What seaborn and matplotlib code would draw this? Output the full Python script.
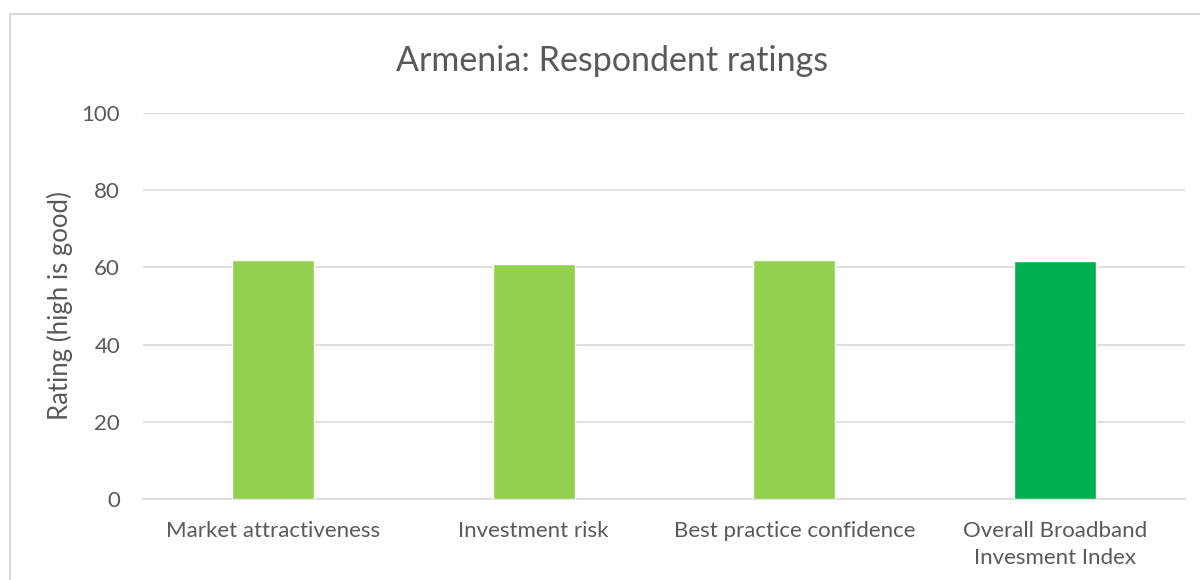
import seaborn as sns
import matplotlib.pyplot as plt
import pandas as pd
from matplotlib.patches import Rectangle

categories = ["Market attractiveness", "Investment risk", "Best practice confidence",
              "Overall Broadband\nInvesment Index"]
ratings = [61.8, 60.8, 61.8, 61.6]
bar_colors = ["#92D050", "#92D050", "#92D050", "#00B050"]

df = pd.DataFrame({"category": categories, "rating": ratings})

sns.set_style("white")
plt.rcParams['font.family'] = ['Lato', 'DejaVu Sans']
text_color = "#595959"

fig = plt.figure(figsize=(12, 5.8), dpi=100)
ax = fig.add_axes([143 / 1200, 1 - 499 / 580, 1042 / 1200, (499 - 113) / 580])

sns.barplot(data=df, x="category", y="rating", hue="category", palette=bar_colors,
            width=0.315, saturation=1, legend=False, ax=ax, zorder=3)

ax.set_ylim(0, 100)
ax.set_yticks(range(0, 101, 20))
ax.set_xlim(-0.5, 3.5)
ax.grid(axis="y", color="#D9D9D9", linewidth=1.2, zorder=0)
for s in ["top", "right", "left"]:
    ax.spines[s].set_visible(False)
ax.spines["bottom"].set_color("#D9D9D9")
ax.spines["bottom"].set_linewidth(1.2)
ax.tick_params(axis="both", length=0, labelsize=16, colors=text_color)
ax.tick_params(axis="y", pad=16.5)
ax.tick_params(axis="x", pad=16)
for lab in ax.get_xticklabels():
    lab.set_linespacing(1.4)
ax.set_xlabel("")
ax.set_ylabel("Rating (high is good)", fontsize=18.5, color=text_color)
ax.yaxis.set_label_coords((73 - 143) / 1042, 0.5)

fig.text(612 / 1200, 1 - 61 / 580, "Armenia: Respondent ratings", ha="center", va="center",
         fontsize=24.5, color=text_color)

# chart frame
fig.patches.append(Rectangle((10 / 1200, -0.1), 1.2, 1 - 14 / 580 + 0.1, transform=fig.transFigure,
                             fill=False, edgecolor="#D9D9D9", linewidth=1.5))

plt.savefig("out.png", dpi=100)
